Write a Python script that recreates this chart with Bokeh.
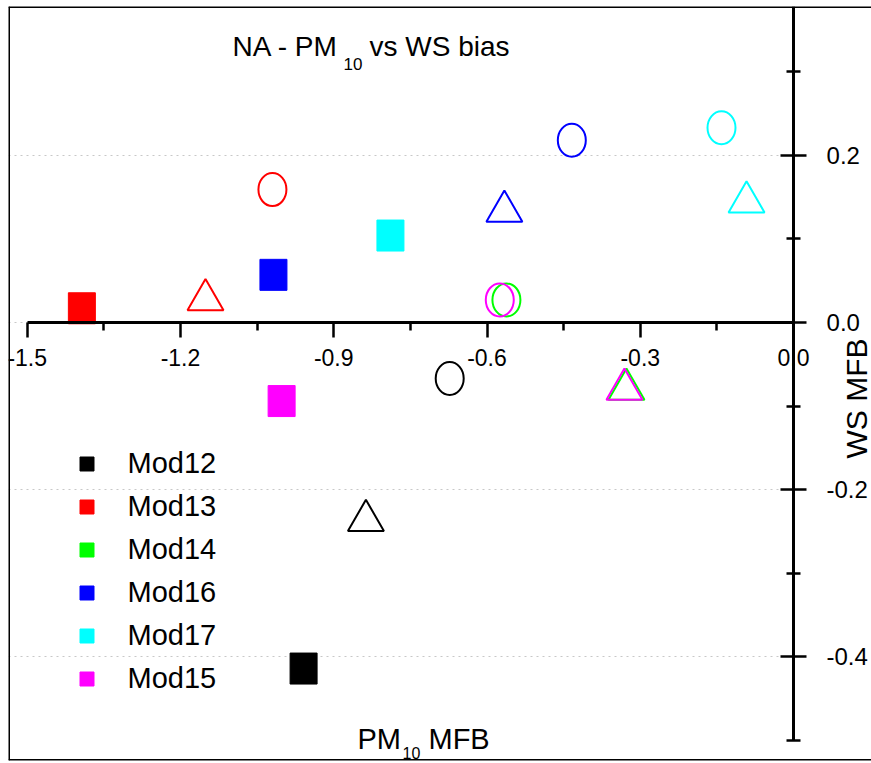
from bokeh.plotting import figure
from bokeh.models import (LinearAxis, FixedTicker, Span, Label, Legend, LegendItem,
                          Range1d, Grid, PrintfTickFormatter)
from bokeh.embed import file_html
from bokeh.resources import INLINE
import math

# ---------------- data ----------------
models = ["Mod12", "Mod13", "Mod14", "Mod16", "Mod17", "Mod15"]
colors = ["#000000", "#ff0000", "#00ff00", "#0000ff", "#00ffff", "#ff00ff"]

# filled squares
square_x = [-0.959, -1.393, None, -1.018, -0.789, -1.002]
square_y = [-0.414, 0.017, None, 0.057, 0.104, -0.094]
# open circles
circle_x = [-0.673, -1.020, -0.562, -0.434, -0.141, -0.575]
circle_y = [-0.067, 0.159, 0.027, 0.218, 0.233, 0.027]
# open triangles
tri_x = [-0.837, -1.151, -0.327, -0.566, -0.092, -0.331]
tri_y = [-0.237, 0.027, -0.080, 0.133, 0.144, -0.080]

x_major = [-1.5, -1.2, -0.9, -0.6, -0.3, 0.0]
x_minor = [-1.35, -1.05, -0.75, -0.45, -0.15]
y_major = [-0.4, -0.2, 0.0, 0.2]
y_minor = [-0.5, -0.3, -0.1, 0.1, 0.3]

X0, X1 = -1.5366, 0.1526
Y0, Y1 = -0.524, 0.378

FONT = "Liberation Sans"

p = figure(width=871, height=763, output_backend="svg", toolbar_location=None,
           x_range=Range1d(X0, X1), y_range=Range1d(Y0, Y1),
           x_axis_location=None, y_axis_location=None,
           min_border_left=8, min_border_right=0, min_border_top=6, min_border_bottom=3,
           outline_line_color=None, background_fill_color="white",
           border_fill_color="white")
p.xgrid.visible = False
p.ygrid.visible = False

grid = Grid(dimension=1, ticker=FixedTicker(ticks=y_major), cross_bounds=(X0, 0.0),
            grid_line_color="#c8c8c8", grid_line_dash="dotted", grid_line_width=1)
p.add_layout(grid)

# axes through the origin
xaxis = LinearAxis(fixed_location=0.0,
                   ticker=FixedTicker(ticks=x_major, minor_ticks=x_minor),
                   formatter=PrintfTickFormatter(format="%.1f"),
                   bounds=(-1.5, 0.0),
                   axis_line_width=3, major_tick_line_width=2.5, minor_tick_line_width=2.5,
                   major_tick_in=0, major_tick_out=15, minor_tick_in=0, minor_tick_out=8,
                   major_label_standoff=12,
                   major_label_text_font=FONT, major_label_text_font_size="23px",
                   major_label_text_color="black")
p.add_layout(xaxis, "below")

yaxis = LinearAxis(fixed_location=0.0,
                   ticker=FixedTicker(ticks=y_major, minor_ticks=y_minor),
                   formatter=PrintfTickFormatter(format="%.1f"),
                   bounds=(-0.5, Y1),
                   axis_line_width=3, major_tick_line_width=2.5, minor_tick_line_width=2.5,
                   major_tick_in=13, major_tick_out=13, minor_tick_in=7, minor_tick_out=7,
                   major_label_standoff=20,
                   major_label_text_font=FONT, major_label_text_font_size="24px",
                   major_label_text_color="black")
p.add_layout(yaxis, "right")

items = []
for i, m in enumerate(models):
    c = colors[i]
    if square_x[i] is not None:
        p.rect(x=[square_x[i]], y=[square_y[i]], width=27, height=31,
               width_units="screen", height_units="screen",
               fill_color=c, line_color=c, line_width=1)
    p.ellipse(x=[circle_x[i]], y=[circle_y[i]], width=28, height=33,
              width_units="screen", height_units="screen",
              fill_color=None, line_color=c, line_width=2)
    p.scatter(x=[tri_x[i]], y=[tri_y[i]], marker="triangle", size=36,
              fill_color=None, line_color=c, line_width=2)
    lr = p.scatter(x=[float("nan")], y=[float("nan")], marker="square", size=14,
                   fill_color=c, line_color=c)
    items.append(LegendItem(label=m, renderers=[lr]))

legend = Legend(items=items, location=(60.5, 64.5), orientation="vertical",
                glyph_width=35, glyph_height=35, spacing=8, padding=0, margin=0,
                label_standoff=24, label_height=35,
                label_text_font=FONT, label_text_font_size="29px",
                label_text_color="black",
                border_line_color=None, background_fill_alpha=0)
p.add_layout(legend, "center")

# frame borders (left, top, bottom)
for loc, dim in [(X0, "height"), (Y1, "width"), (Y0, "width")]:
    p.add_layout(Span(location=loc, dimension=dim, line_color="black", line_width=3))

def lab(text, x, y, size, **kw):
    p.add_layout(Label(x=x, y=y, x_units="screen", y_units="screen", text=text,
                       text_font=FONT, text_font_size=size, text_color="black",
                       text_baseline="alphabetic", **kw))

# title (frame-relative screen coords: x from left=8, y from bottom=760)
lab("NA - PM", 224, 714, "28px")
lab("10", 335, 697, "17px")
lab("vs WS bias", 361, 714, "28px")

# x axis title
lab("PM", 349, 22, "29px")
lab("10", 394, 8, "16px")
lab("MFB", 420, 22, "29px")

# y axis title (rotated)
lab("WS MFB", 848, 362, "30px", angle=math.pi / 2, text_align="center")

open("out.html", "w").write(file_html(p, INLINE))
